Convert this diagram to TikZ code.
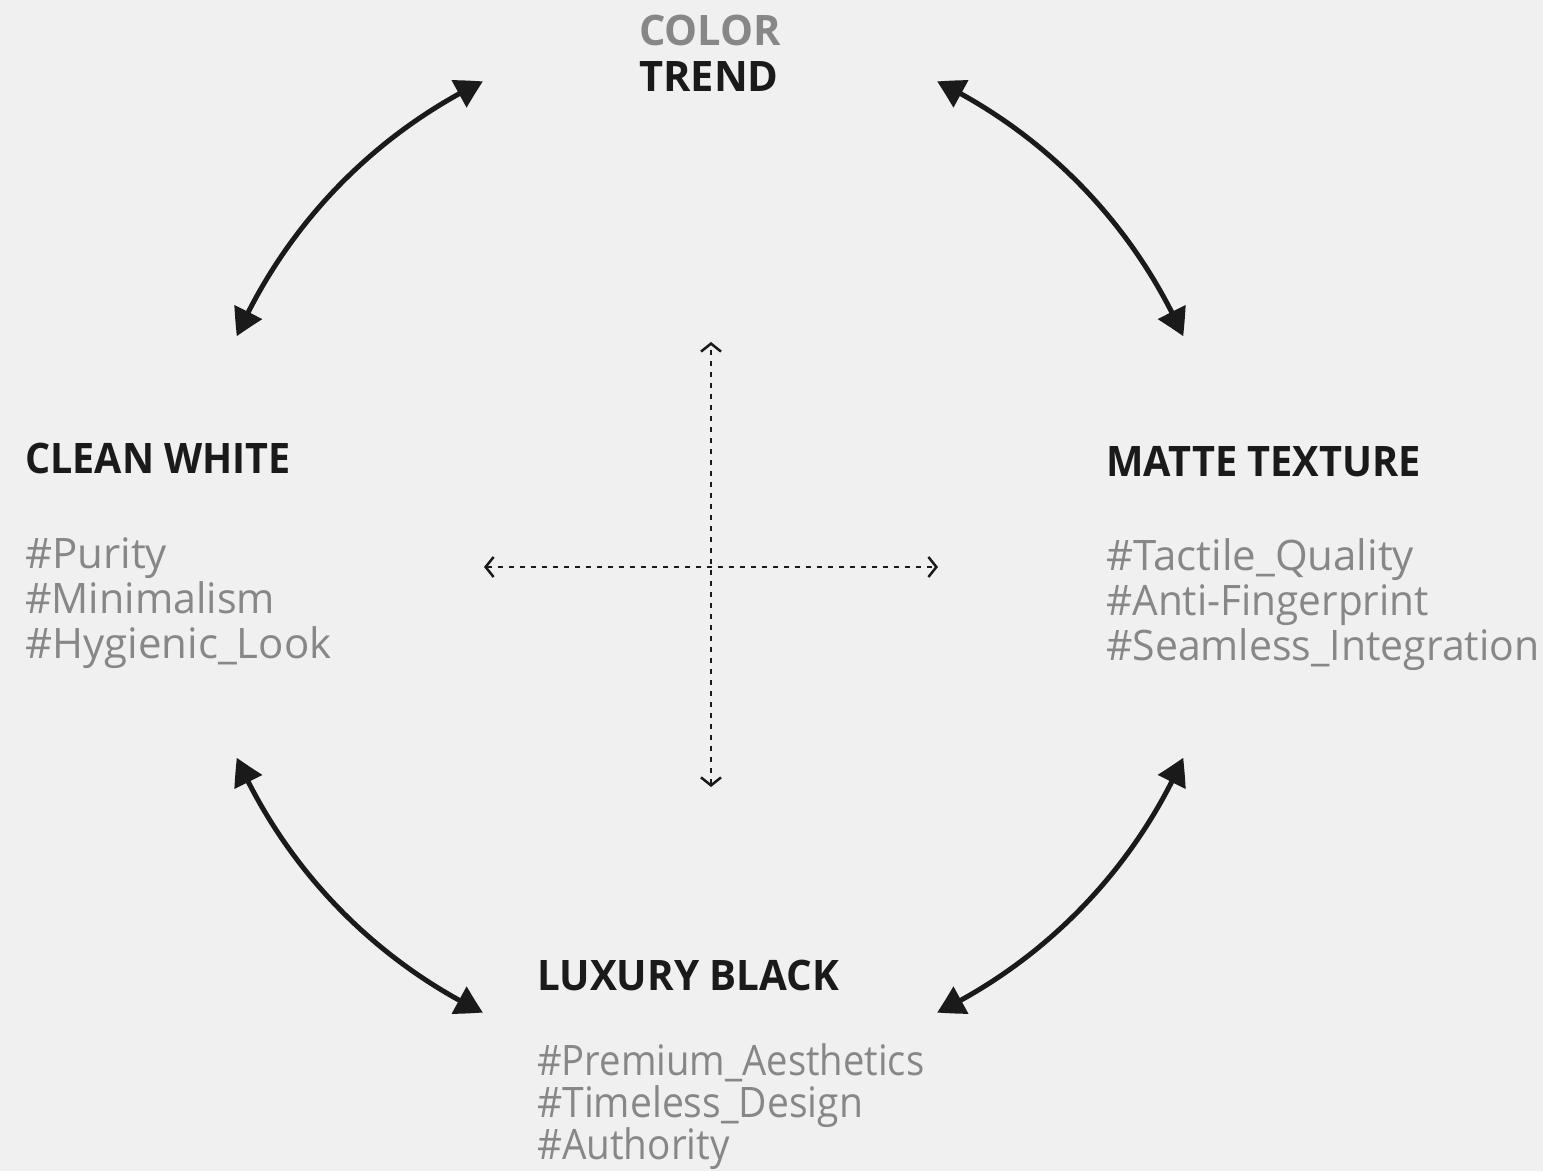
\documentclass[tikz,border=0pt]{standalone}
\usepackage{fontspec}
\usepackage{graphicx}
\setmainfont{Open Sans}
\usetikzlibrary{arrows.meta,bending}
\definecolor{bg}{HTML}{F0F0F0}
\definecolor{ink}{HTML}{1A1A1A}
\definecolor{tagc}{HTML}{878787}
\newcommand\sxw[2]{\scalebox{#1}[1]{#2}}
\begin{document}
\begin{tikzpicture}[x=1pt,y=1pt,
  head/.style={font=\fontsize{42}{45}\selectfont\bfseries, text=ink, anchor=base west, inner sep=0pt},
  tags/.style={font=\fontsize{42}{45}\selectfont, text=tagc, anchor=base west, inner sep=0pt, align=left},
  cyc/.style={line width=5pt, draw=ink, {Triangle[length=27pt,width=30pt,bend]}-{Triangle[length=27pt,width=30pt,bend]}},
  axis/.style={line width=2.5pt, draw=ink, dash pattern=on 5.5pt off 5.5pt, {Straight Barb[length=8pt,width=20pt]}-{Straight Barb[length=8pt,width=20pt]}}]
\fill[bg] (0,0) rectangle (1543,1171);
\useasboundingbox (0,0) rectangle (1543,1171);
% texts
\node[head, text=tagc] (t1) at (639,1125) {\sxw{0.99}{COLOR}};
\node[head] (t2) at (639,1079) {\sxw{0.99}{TREND}};
\node[head] (cw) at (25,697) {\sxw{0.94}{CLEAN WHITE}};
\node[tags] (cwt) at (25,512) {\#Purity\\\sxw{0.98}{\#Minimalism}\\\#Hygienic\_Look};
\node[head] (mt) at (1106,694) {\sxw{0.945}{MATTE TEXTURE}};
\node[tags] (mtt) at (1106,510) {\#Tactile\_Quality\\\sxw{0.965}{\#Anti-Fingerprint}\\\sxw{0.975}{\#Seamless\_Integration}};
\node[head] (lb) at (537,180) {\sxw{0.96}{LUXURY BLACK}};
\node[tags, font=\fontsize{42}{42}\selectfont] (lbt) at (537,12) {\sxw{0.91}{\#Premium\_Aesthetics}\\\sxw{0.93}{\#Timeless\_Design}\\\sxw{0.92}{\#Authority}};
% cycle arcs
\coordinate (c) at (710,624);
\coordinate (tlA) at ([shift={(c)}]116:518);
\coordinate (trA) at ([shift={(c)}]64:518);
\coordinate (blA) at ([shift={(c)}]204:518);
\coordinate (brA) at ([shift={(c)}]296:518);
\draw[cyc] (tlA) arc[start angle=116, end angle=156, radius=518];
\draw[cyc] (trA) arc[start angle=64, end angle=24, radius=518];
\draw[cyc] (blA) arc[start angle=204, end angle=244, radius=518];
\draw[cyc] (brA) arc[start angle=296, end angle=336, radius=518];
% axes
\coordinate (vt) at (711,829);
\coordinate (vb) at (711,384);
\coordinate (hl) at (484,604);
\coordinate (hr) at (938,604);
\draw[axis] (vb) -- (vt);
\draw[axis] (hl) -- (hr);
\end{tikzpicture}
\end{document}
